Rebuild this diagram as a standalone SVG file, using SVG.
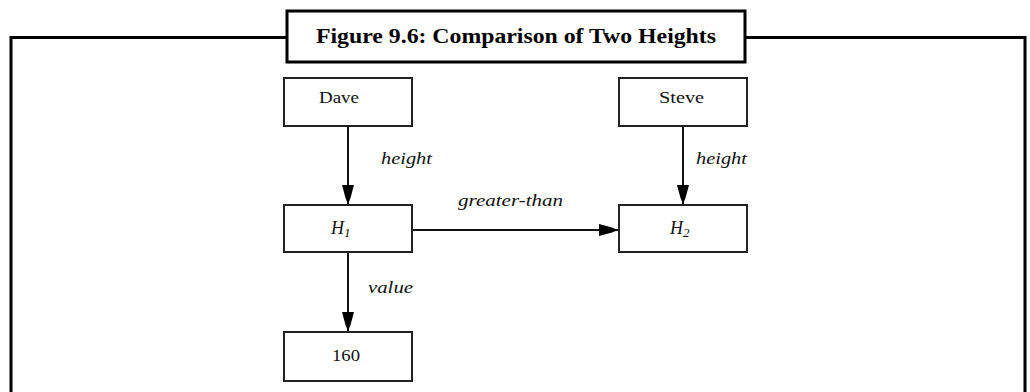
<svg xmlns="http://www.w3.org/2000/svg" width="1030" height="392" viewBox="0 0 1030 392">
<style>
.frame{fill:none;stroke:#000;stroke-width:3}
.box{fill:#fff;stroke:#222;stroke-width:2}
.lbl{font-family:"Liberation Serif",serif;font-size:16px;fill:#111}
.hv{font-family:"Liberation Serif",serif;font-size:18px;font-style:italic;fill:#111}
.sub{font-size:13px}
.it{font-family:"Liberation Serif",serif;font-size:17px;font-style:italic;fill:#111}
.edge{stroke:#111;stroke-width:2;fill:none}
.title{font-family:"Liberation Serif",serif;font-size:21px;font-weight:bold;fill:#000}
</style>
<defs>
<marker id="ah" markerUnits="userSpaceOnUse" markerWidth="24" markerHeight="16" viewBox="-20 -8 24 16" refX="0" refY="0" orient="auto">
<path d="M0,0 L-6,-2.5 L-19,-6 L-19,6 L-6,2.5 Z" fill="#000"/>
</marker>
</defs>
<g id="frame">
<polyline class="frame" points="11,400 11,37.5 287,37.5"/>
<polyline class="frame" points="745,37.5 1025,37.5 1025,400"/>
</g>
<g id="title">
<rect x="287" y="11" width="458" height="51" fill="#fff" stroke="#000" stroke-width="3"/>
<text class="title" x="516" y="43" text-anchor="middle" textLength="400" lengthAdjust="spacingAndGlyphs">Figure 9.6: Comparison of Two Heights</text>
</g>
<g id="connectors">
<line class="edge" x1="348" y1="126" x2="348" y2="204" marker-end="url(#ah)"/>
<line class="edge" x1="683" y1="126" x2="683" y2="204" marker-end="url(#ah)"/>
<line class="edge" x1="348" y1="252" x2="348" y2="331" marker-end="url(#ah)"/>
<line class="edge" x1="412" y1="230" x2="618" y2="230" marker-end="url(#ah)"/>
<text class="it" x="381" y="164" textLength="51" lengthAdjust="spacingAndGlyphs">height</text>
<text class="it" x="696" y="164" textLength="51" lengthAdjust="spacingAndGlyphs">height</text>
<text class="it" x="368" y="293" textLength="45" lengthAdjust="spacingAndGlyphs">value</text>
<text class="it" x="458" y="206" textLength="105" lengthAdjust="spacingAndGlyphs">greater-than</text>
</g>
<g id="dave">
<rect class="box" x="284" y="78" width="128" height="48"/>
<text class="lbl" x="319" y="103" textLength="40" lengthAdjust="spacingAndGlyphs">Dave</text>
</g>
<g id="steve">
<rect class="box" x="619" y="78" width="128" height="48"/>
<text class="lbl" x="659" y="103" textLength="45" lengthAdjust="spacingAndGlyphs">Steve</text>
</g>
<g id="h1">
<rect class="box" x="284" y="205" width="128" height="47"/>
<text class="hv" x="331" y="234">H<tspan class="sub" dy="3">1</tspan></text>
</g>
<g id="h2">
<rect class="box" x="619" y="205" width="128" height="47"/>
<text class="hv" x="670" y="234">H<tspan class="sub" dy="3">2</tspan></text>
</g>
<g id="n160">
<rect class="box" x="284" y="332" width="128" height="49"/>
<text class="lbl" x="332" y="361" textLength="28" lengthAdjust="spacingAndGlyphs">160</text>
</g>
</svg>
